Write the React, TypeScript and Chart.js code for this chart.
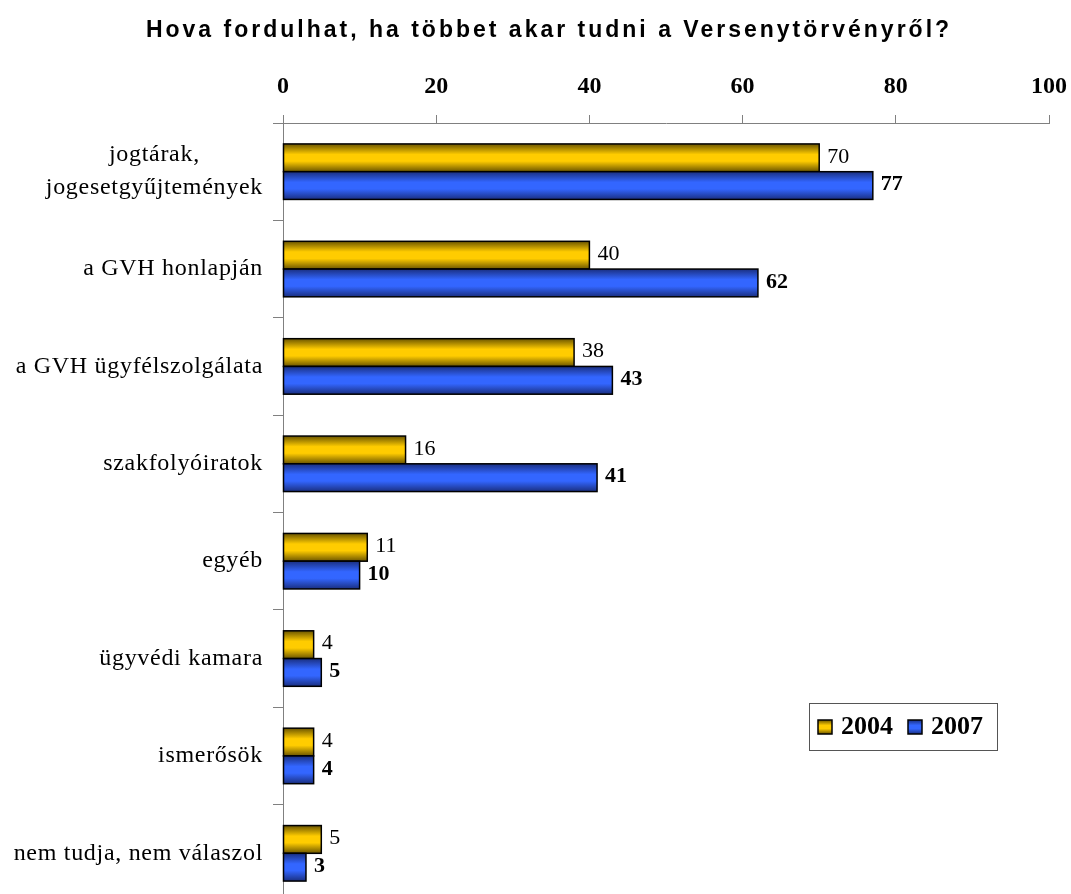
import React, { useEffect, useRef } from "react";
import { Chart, registerables } from "chart.js";

Chart.register(...registerables);

const TITLE = "Hova fordulhat, ha többet akar tudni a Versenytörvényről?";
const CATEGORIES: string[][] = [
  ["jogtárak,", "jogesetgyűjtemények"],
  ["a GVH honlapján"],
  ["a GVH ügyfélszolgálata"],
  ["szakfolyóiratok"],
  ["egyéb"],
  ["ügyvédi kamara"],
  ["ismerősök"],
  ["nem tudja, nem válaszol"],
];
const SERIES_NAMES = ["2004", "2007"];
const VALUES_2004 = [70, 40, 38, 16, 11, 4, 4, 5];
const VALUES_2007 = [77, 62, 43, 41, 10, 5, 4, 3];
const X_MIN = 0;
const X_MAX = 100;
const X_STEP = 20;

const YELLOW = ["#6b5500", "#ffcc00", "#ffcc00", "#6b5500"];
const BLUE = ["#1a2f80", "#3366ff", "#3366ff", "#1a2f80"];
const AXIS_GRAY = "#808080";
const SERIF = "'Liberation Serif', 'Times New Roman', serif";
const SANS = "'Liberation Sans', Arial, sans-serif";

function gradientFor(ctx: CanvasRenderingContext2D, top: number, bottom: number, stops: string[]) {
  const g = ctx.createLinearGradient(0, top, 0, bottom);
  g.addColorStop(0, stops[0]);
  g.addColorStop(0.38, stops[1]);
  g.addColorStop(0.62, stops[2]);
  g.addColorStop(1, stops[3]);
  return g;
}

const customDraw = {
  id: "customDraw",
  afterDatasetsDraw(chart: any) {
    const ctx: CanvasRenderingContext2D = chart.ctx;
    ctx.save();
    chart.data.datasets.forEach((ds: any, di: number) => {
      const meta = chart.getDatasetMeta(di);
      const stops = di === 0 ? YELLOW : BLUE;
      meta.data.forEach((el: any, i: number) => {
        const p = el.getProps(["x", "y", "base", "height"], true);
        const top = p.y - p.height / 2;
        const left = Math.min(p.base, p.x);
        const w = Math.abs(p.x - p.base);
        ctx.fillStyle = gradientFor(ctx, top, top + p.height, stops);
        ctx.fillRect(left, top, w, p.height);
        ctx.lineWidth = 1.5;
        ctx.strokeStyle = "#000";
        ctx.strokeRect(left, top, w, p.height);
        ctx.fillStyle = "#000";
        ctx.font = (di === 1 ? "bold " : "") + "22px " + SERIF;
        ctx.textAlign = "left";
        ctx.textBaseline = "middle";
        ctx.fillText(String(ds.data[i]), p.x + 8, p.y - 1);
      });
    });
    ctx.restore();
  },
  afterDraw(chart: any) {
    const ctx: CanvasRenderingContext2D = chart.ctx as any;
    const yScale = chart.scales.y;
    ctx.save();
    // title
    ctx.font = "bold 23px " + SANS;
    (ctx as any).letterSpacing = "3px";
    ctx.fillStyle = "#000";
    ctx.textAlign = "center";
    ctx.textBaseline = "alphabetic";
    ctx.fillText(TITLE, 549, 37);

    // category labels
    ctx.font = "24px " + SERIF;
    (ctx as any).letterSpacing = "0.7px";
    ctx.textBaseline = "middle";
    const rightEdge = yScale.right - 20;
    const lineH = 33;
    CATEGORIES.forEach((lines, i) => {
      const cy = yScale.getPixelForValue(i);
      const widths = lines.map((l) => ctx.measureText(l).width);
      const maxW = Math.max(...widths);
      const cx = rightEdge - maxW / 2;
      lines.forEach((l, k) => {
        const ly = cy + (k - (lines.length - 1) / 2) * lineH;
        ctx.textAlign = "center";
        ctx.fillText(l, cx, ly);
      });
    });

    // legend
    (ctx as any).letterSpacing = "0px";
    const lx = 809, ly = 703, lw = 188, lh = 47;
    ctx.fillStyle = "#fff";
    ctx.fillRect(lx, ly, lw, lh);
    ctx.strokeStyle = "#555";
    ctx.lineWidth = 1;
    ctx.strokeRect(lx + 0.5, ly + 0.5, lw, lh);
    const items = [
      { x: 818, stops: YELLOW, label: SERIES_NAMES[0] },
      { x: 908, stops: BLUE, label: SERIES_NAMES[1] },
    ];
    items.forEach((it) => {
      const sy = 720, ss = 14;
      ctx.fillStyle = gradientFor(ctx, sy, sy + ss, it.stops);
      ctx.fillRect(it.x, sy, ss, ss);
      ctx.strokeStyle = "#000";
      ctx.lineWidth = 1.5;
      ctx.strokeRect(it.x, sy, ss, ss);
      ctx.fillStyle = "#000";
      ctx.font = "bold 26px " + SERIF;
      ctx.textAlign = "left";
      ctx.textBaseline = "middle";
      ctx.fillText(it.label, it.x + 23, 727);
    });
    ctx.restore();
  },
};

export default function App() {
  const ref = useRef<HTMLCanvasElement>(null);
  useEffect(() => {
    if (!ref.current) return;
    const chart = new Chart(ref.current, {
      type: "bar",
      data: {
        labels: CATEGORIES.map((c) => c.join(" ")),
        datasets: [
          { label: SERIES_NAMES[0], data: VALUES_2004, backgroundColor: "rgba(0,0,0,0)", borderWidth: 0 },
          { label: SERIES_NAMES[1], data: VALUES_2007, backgroundColor: "rgba(0,0,0,0)", borderWidth: 0 },
        ],
      },
      options: {
        indexAxis: "y",
        responsive: false,
        animation: false,
        events: [],
        categoryPercentage: 0.57,
        barPercentage: 1,
        layout: { padding: { top: 0, left: 0, right: 22, bottom: 0 } },
        plugins: {
          legend: { display: false },
          title: { display: false },
          tooltip: { enabled: false },
        },
        scales: {
          x: {
            position: "top",
            min: X_MIN,
            max: X_MAX,
            afterFit: (s: any) => {
              s.height = 123;
              s.paddingLeft = 0;
              s.paddingRight = 0;
            },
            ticks: {
              stepSize: X_STEP,
              color: "#000",
              font: { family: SERIF, size: 24, weight: "bold" },
              padding: 14,
            },
            grid: { drawOnChartArea: false, tickLength: 8, color: AXIS_GRAY },
            border: { color: AXIS_GRAY, width: 1 },
          },
          y: {
            afterFit: (s: any) => {
              s.width = 283;
              s.paddingTop = 0;
              s.paddingBottom = 0;
            },
            ticks: { display: false },
            grid: { drawOnChartArea: false, tickLength: 10, color: AXIS_GRAY, offset: true },
            border: { color: AXIS_GRAY, width: 1 },
          },
        },
      },
      plugins: [customDraw],
    } as any);
    return () => chart.destroy();
  }, []);
  return (
    <div
      style={{
        position: "fixed",
        left: 0,
        top: 0,
        width: 1071,
        height: 894,
        overflow: "hidden",
        background: "#fff",
      }}
    >
      <canvas ref={ref} width={1071} height={902} style={{ width: 1071, height: 902, display: "block" }} />
    </div>
  );
}
